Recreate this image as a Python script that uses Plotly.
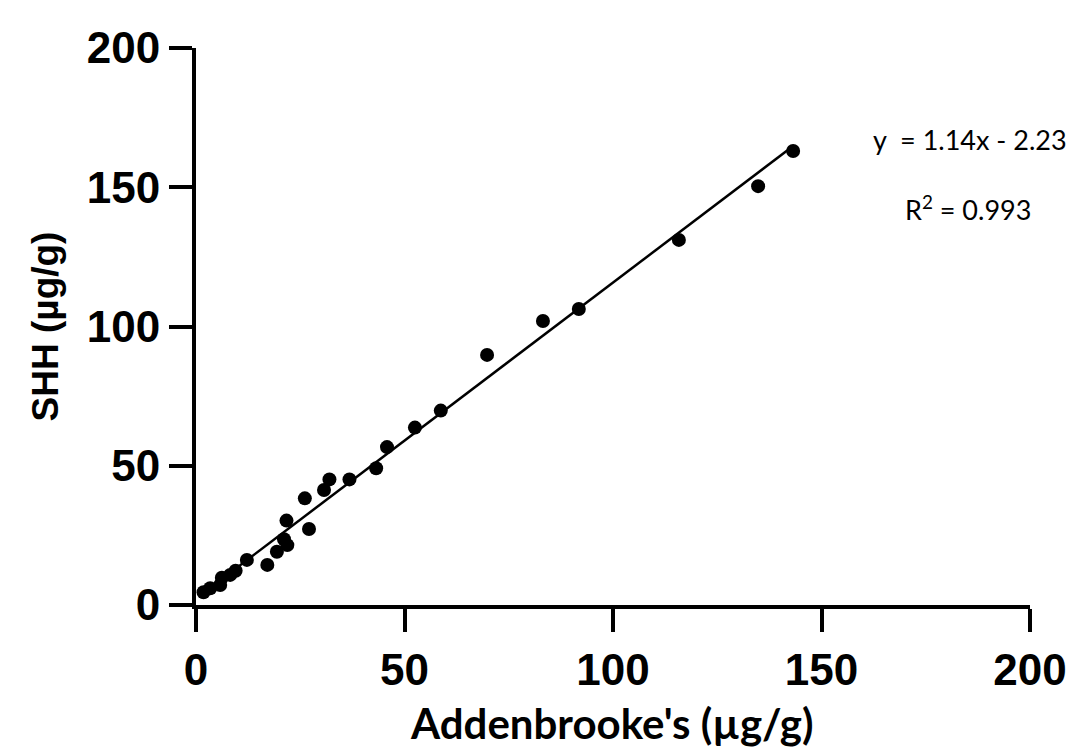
import numpy as np
import plotly.graph_objects as go

# Data
addenbrookes = [1.8, 3.4, 5.8, 6.2, 8.2, 9.5, 12.2, 17.1, 19.4, 21.1, 21.9, 21.7,
                27.1, 26.1, 30.7, 32.0, 36.8, 43.2, 45.8, 52.5, 58.7, 69.8, 83.2,
                91.8, 115.8, 134.8, 143.2]
shh = [4.6, 6.0, 7.2, 9.8, 10.8, 12.3, 16.2, 14.4, 19.1, 23.6, 21.5, 30.3,
       27.3, 38.3, 41.3, 45.1, 45.1, 49.1, 56.7, 63.7, 69.8, 89.8, 102.0,
       106.3, 131.1, 150.4, 163.0]
eq_slope = 1.14
eq_intercept = -2.23
r_squared = 0.993
tick_vals = [0, 50, 100, 150, 200]
x_title = "Addenbrooke's (µg/g)"
y_title = "SHH (µg/g)"

# Fitted line through the plotted data
fit_slope, fit_intercept = np.polyfit(addenbrookes, shh, 1)
fit_x = [min(addenbrookes), max(addenbrookes)]
fit_y = [fit_slope * v + fit_intercept for v in fit_x]

fig = go.Figure()
fig.add_trace(go.Scatter(x=fit_x, y=fit_y, mode="lines",
                         line=dict(color="black", width=2.5), showlegend=False))
fig.add_trace(go.Scatter(x=addenbrookes, y=shh, mode="markers",
                         marker=dict(color="black", size=14), showlegend=False,
                         cliponaxis=False))

axis_common = dict(
    range=[0, 200], tickvals=tick_vals, showgrid=False, zeroline=False,
    showline=True, linecolor="black", linewidth=4, automargin=False,
    ticks="outside", ticklen=23, tickwidth=4, tickcolor="black",
    tickfont=dict(family="Liberation Sans", size=44, color="black", weight="bold"),
)
fig.update_xaxes(**axis_common)
fig.update_yaxes(**axis_common,
                 title=dict(text=y_title,
                            font=dict(family="Liberation Sans", size=37, color="black", weight="bold"),
                            standoff=18))

# x-axis title placed below the tick labels
fig.add_annotation(x=0.499, y=-0.212, xref="paper", yref="paper", showarrow=False,
                   xanchor="center", yanchor="middle", text=x_title,
                   font=dict(family="Lato", size=42, color="black", weight="bold"))

fig.add_annotation(x=0.928, y=0.835, xref="paper", yref="paper", showarrow=False,
                   xanchor="center", yanchor="middle",
                   text=f"y  = {eq_slope:.2f}x - {abs(eq_intercept):.2f}",
                   font=dict(family="Lato", size=27, color="black"))
fig.add_annotation(x=0.926, y=0.713, xref="paper", yref="paper", showarrow=False,
                   xanchor="center", yanchor="middle",
                   text=f"R<sup>2</sup> = {r_squared:.3f}",
                   font=dict(family="Lato", size=27, color="black"))

fig.update_layout(width=1070, height=750, plot_bgcolor="white", paper_bgcolor="white",
                  margin=dict(l=196, r=40, t=48, b=145))
fig.write_html("out.html", config={"displayModeBar": False},
               post_script="document.body.style.margin='0';")
